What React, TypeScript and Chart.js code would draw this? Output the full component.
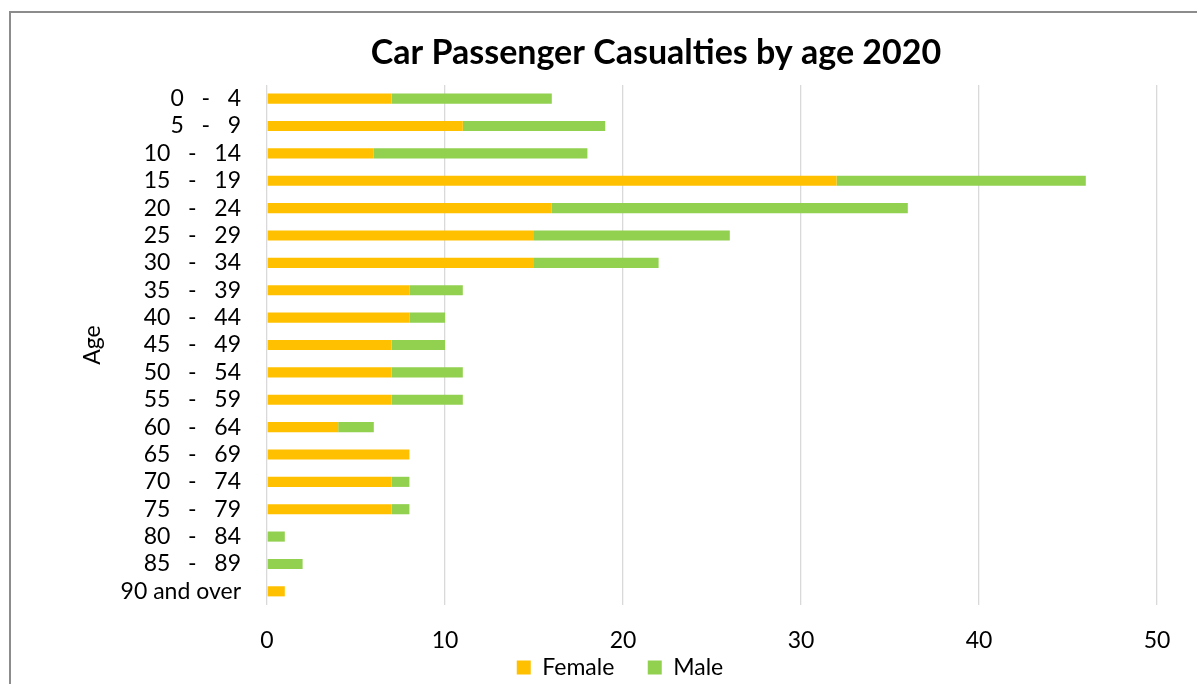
import React, { useEffect, useRef } from "react";
import { Chart, registerables } from "chart.js";

Chart.register(...registerables);

const SP = "   ";
const ageGroups: string[] = [
  `0${SP}-${SP}4`,
  `5${SP}-${SP}9`,
  `10${SP}-${SP}14`,
  `15${SP}-${SP}19`,
  `20${SP}-${SP}24`,
  `25${SP}-${SP}29`,
  `30${SP}-${SP}34`,
  `35${SP}-${SP}39`,
  `40${SP}-${SP}44`,
  `45${SP}-${SP}49`,
  `50${SP}-${SP}54`,
  `55${SP}-${SP}59`,
  `60${SP}-${SP}64`,
  `65${SP}-${SP}69`,
  `70${SP}-${SP}74`,
  `75${SP}-${SP}79`,
  `80${SP}-${SP}84`,
  `85${SP}-${SP}89`,
  "90 and over",
];

const femaleValues: number[] = [7, 11, 6, 32, 16, 15, 15, 8, 8, 7, 7, 7, 4, 8, 7, 7, 0, 0, 1];
const maleValues: number[] = [9, 8, 12, 14, 20, 11, 7, 3, 2, 3, 4, 4, 2, 0, 1, 1, 1, 2, 0];

const xTicks: number[] = [0, 10, 20, 30, 40, 50];

const chartTitle = "Car Passenger Casualties by age 2020";
const FONT = "Lato, 'Open Sans', sans-serif";

const titlePlugin = {
  id: "customTitle",
  afterDraw(chart: any) {
    const ctx = chart.ctx;
    ctx.save();
    ctx.font = `bold 34px ${FONT}`;
    ctx.fillStyle = "#000000";
    ctx.textAlign = "center";
    ctx.textBaseline = "middle";
    ctx.fillText(chartTitle, 656, 53);
    ctx.restore();
  },
};

export default function App() {
  const ref = useRef<HTMLCanvasElement | null>(null);

  useEffect(() => {
    if (!ref.current) return;
    const chart = new Chart(ref.current, {
      type: "bar",
      data: {
        labels: ageGroups,
        datasets: [
          {
            label: "Female",
            data: femaleValues,
            backgroundColor: "#FFC000",
            barPercentage: 0.37,
            categoryPercentage: 1,
          },
          {
            label: "Male",
            data: maleValues,
            backgroundColor: "#92D050",
            barPercentage: 0.37,
            categoryPercentage: 1,
          },
        ],
      },
      plugins: [titlePlugin],
      options: {
        indexAxis: "y",
        animation: false,
        responsive: false,
        maintainAspectRatio: false,
        layout: { padding: { left: 83, right: 40, top: 85, bottom: -5 } },
        plugins: {
          title: { display: false },
          tooltip: { enabled: false },
          legend: {
            position: "bottom",
            labels: {
              boxWidth: 14,
              boxHeight: 14,
              padding: 4,
              color: "#000000",
              font: { family: FONT, size: 23 },
              generateLabels: (chart: any) => {
                const items = Chart.defaults.plugins.legend.labels.generateLabels(chart);
                return items.map((it: any, i: number) =>
                  i < items.length - 1 ? { ...it, text: it.text + "     " } : it
                );
              },
            },
          },
        },
        scales: {
          x: {
            stacked: true,
            min: 0,
            max: 50,
            afterBuildTicks: (scale: any) => {
              scale.ticks = xTicks.map((v) => ({ value: v }));
            },
            afterFit: (scale: any) => {
              scale.height = 47;
            },
            grid: { color: "#d9d9d9", lineWidth: 1.3, drawTicks: false },
            border: { display: false },
            ticks: {
              padding: 22,
              color: "#000000",
              font: { family: FONT, size: 23 },
            },
          },
          y: {
            stacked: true,
            afterFit: (scale: any) => {
              scale.width = 184;
            },
            grid: { display: false, drawTicks: false },
            border: { display: false },
            ticks: {
              padding: 26,
              autoSkip: false,
              color: "#000000",
              font: { family: FONT, size: 23 },
            },
            title: {
              display: true,
              text: "Age",
              color: "#000000",
              font: { family: FONT, size: 23 },
              padding: { top: -4, bottom: 0 },
            },
          },
        },
      },
    });
    return () => chart.destroy();
  }, []);

  return (
    <div
      style={{
        position: "absolute",
        left: 0,
        top: 0,
        width: 1197,
        height: 684,
        overflow: "hidden",
        background: "#ffffff",
      }}
    >
      <div
        style={{
          position: "absolute",
          left: 9,
          top: 11,
          width: 1300,
          height: 800,
          border: "2px solid #8c8c8c",
          boxSizing: "border-box",
        }}
      />
      <canvas
        ref={ref}
        width={1197}
        height={684}
        style={{ position: "absolute", left: 0, top: 0, width: 1197, height: 684 }}
      />
    </div>
  );
}
